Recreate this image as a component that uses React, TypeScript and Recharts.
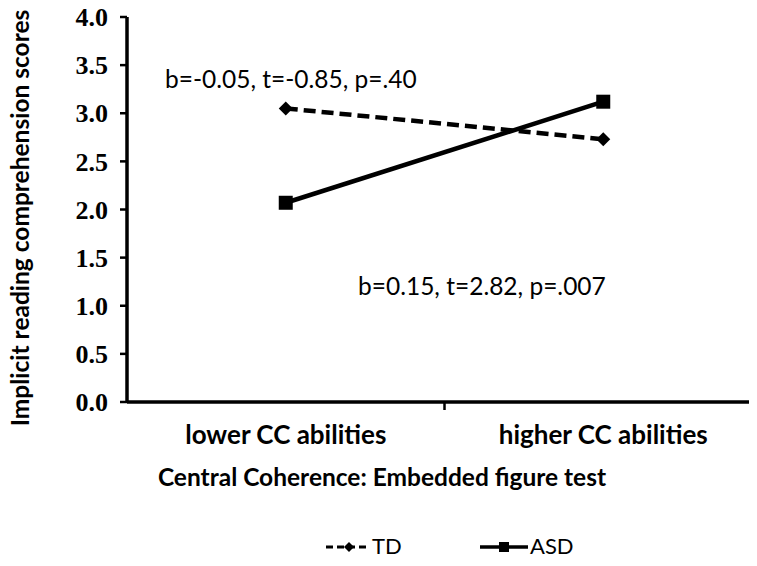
import { Legend, Line, LineChart, XAxis, YAxis } from "recharts";

const categories = ["lower CC abilities", "higher CC abilities"];
const tdScores = [3.05, 2.73];
const asdScores = [2.07, 3.12];
const yTicks = [0, 0.5, 1, 1.5, 2, 2.5, 3, 3.5, 4];

const data = categories.map((name, i) => ({
  name,
  x: i + 0.5,
  td: tdScores[i],
  asd: asdScores[i],
}));

const SANS = "Lato, 'Open Sans', sans-serif";

function Diamond({ cx, cy, r = 6 }: { cx?: number; cy?: number; r?: number }) {
  if (cx == null || cy == null) return null;
  return <path d={`M${cx},${cy - r}L${cx + r},${cy}L${cx},${cy + r}L${cx - r},${cy}Z`} fill="#000" />;
}

function Square({ cx, cy, s = 13 }: { cx?: number; cy?: number; s?: number }) {
  if (cx == null || cy == null) return null;
  return <rect x={cx - s / 2} y={cy - s / 2} width={s} height={s} fill="#000" />;
}

function CategoryTick({ x, y, payload }: { x?: number; y?: number; payload?: { value: number } }) {
  if (x == null || y == null || !payload) return null;
  const v = payload.value;
  if (Number.isInteger(v)) {
    return <line x1={x} x2={x} y1={y} y2={y + 8} stroke="#000" strokeWidth={2.5} />;
  }
  return (
    <text x={x} y={y + 42} textAnchor="middle" fontFamily={SANS} fontWeight={700} fontSize={26} fill="#000">
      {categories[Math.floor(v)]}
    </text>
  );
}

function LegendBox() {
  return (
    <svg width={757} height={30}>
      <line x1={326} x2={368} y1={15} y2={15} stroke="#000" strokeWidth={3} strokeDasharray="7 4" />
      <Diamond cx={349} cy={15} r={5} />
      <text x={372} y={22} fontFamily={SANS} fontSize={22} fill="#000">TD</text>
      <line x1={480} x2={528} y1={15} y2={15} stroke="#000" strokeWidth={3.5} />
      <Square cx={504} cy={15} s={10} />
      <text x={530} y={22} fontFamily={SANS} fontSize={22} fill="#000">ASD</text>
    </svg>
  );
}

export default function App() {
  return (
    <div style={{ margin: -8, width: 757, height: 566, overflow: "hidden", position: "relative", background: "#fff" }}>
      <LineChart width={765} height={566} data={data} margin={{ top: 17, right: 3, bottom: 104, left: 0 }}>
        <XAxis
          dataKey="x"
          type="number"
          domain={[0, 2]}
          ticks={[0.5, 1, 1.5]}
          tick={<CategoryTick />}
          tickLine={false}
          tickSize={0}
          tickMargin={0}
          height={60}
          axisLine={{ stroke: "#000", strokeWidth: 3.5 }}
          label={{
            value: "Central Coherence: Embedded figure test",
            content: () => (
              <text x={382} y={486} textAnchor="middle" fontFamily={SANS} fontWeight={700} fontSize={24.5} fill="#000">
                Central Coherence: Embedded figure test
              </text>
            ),
          }}
        />
        <YAxis
          domain={[0, 4]}
          ticks={yTicks}
          interval={0}
          width={127}
          tickFormatter={(v: number) => v.toFixed(1)}
          tick={{ fill: "#000", fontFamily: "'Liberation Serif', serif", fontWeight: 700, fontSize: 26 }}
          tickSize={7}
          tickMargin={12}
          tickLine={{ stroke: "#000", strokeWidth: 2.5 }}
          axisLine={{ stroke: "#000", strokeWidth: 3.5 }}
          label={{
            value: "Implicit reading comprehension scores",
            content: () => (
              <text
                x={19}
                y={218}
                transform="rotate(-90, 19, 218)"
                textAnchor="middle"
                dominantBaseline="central"
                fontFamily={SANS}
                fontWeight={700}
                fontSize={24.5}
                fill="#000"
              >
                Implicit reading comprehension scores
              </text>
            ),
          }}
        />
        <Line
          dataKey="td"
          stroke="#000"
          strokeWidth={4.5}
          strokeDasharray="12 6"
          dot={<Diamond r={7} />}
          activeDot={false}
          isAnimationActive={false}
        />
        <Line
          dataKey="asd"
          stroke="#000"
          strokeWidth={4.5}
          dot={<Square s={14} />}
          activeDot={false}
          isAnimationActive={false}
        />
        <text x={165} y={88} fontFamily={SANS} fontSize={24.5} fill="#000">b=-0.05, t=-0.85, p=.40</text>
        <text x={358} y={295} fontFamily={SANS} fontSize={24.5} fill="#000">b=0.15, t=2.82, p=.007</text>
        <Legend
          verticalAlign="middle"
          align="center"
          layout="horizontal"
          wrapperStyle={{ top: 532, left: 0, width: 757, height: 30 }}
          content={() => <LegendBox />}
        />
      </LineChart>
    </div>
  );
}
